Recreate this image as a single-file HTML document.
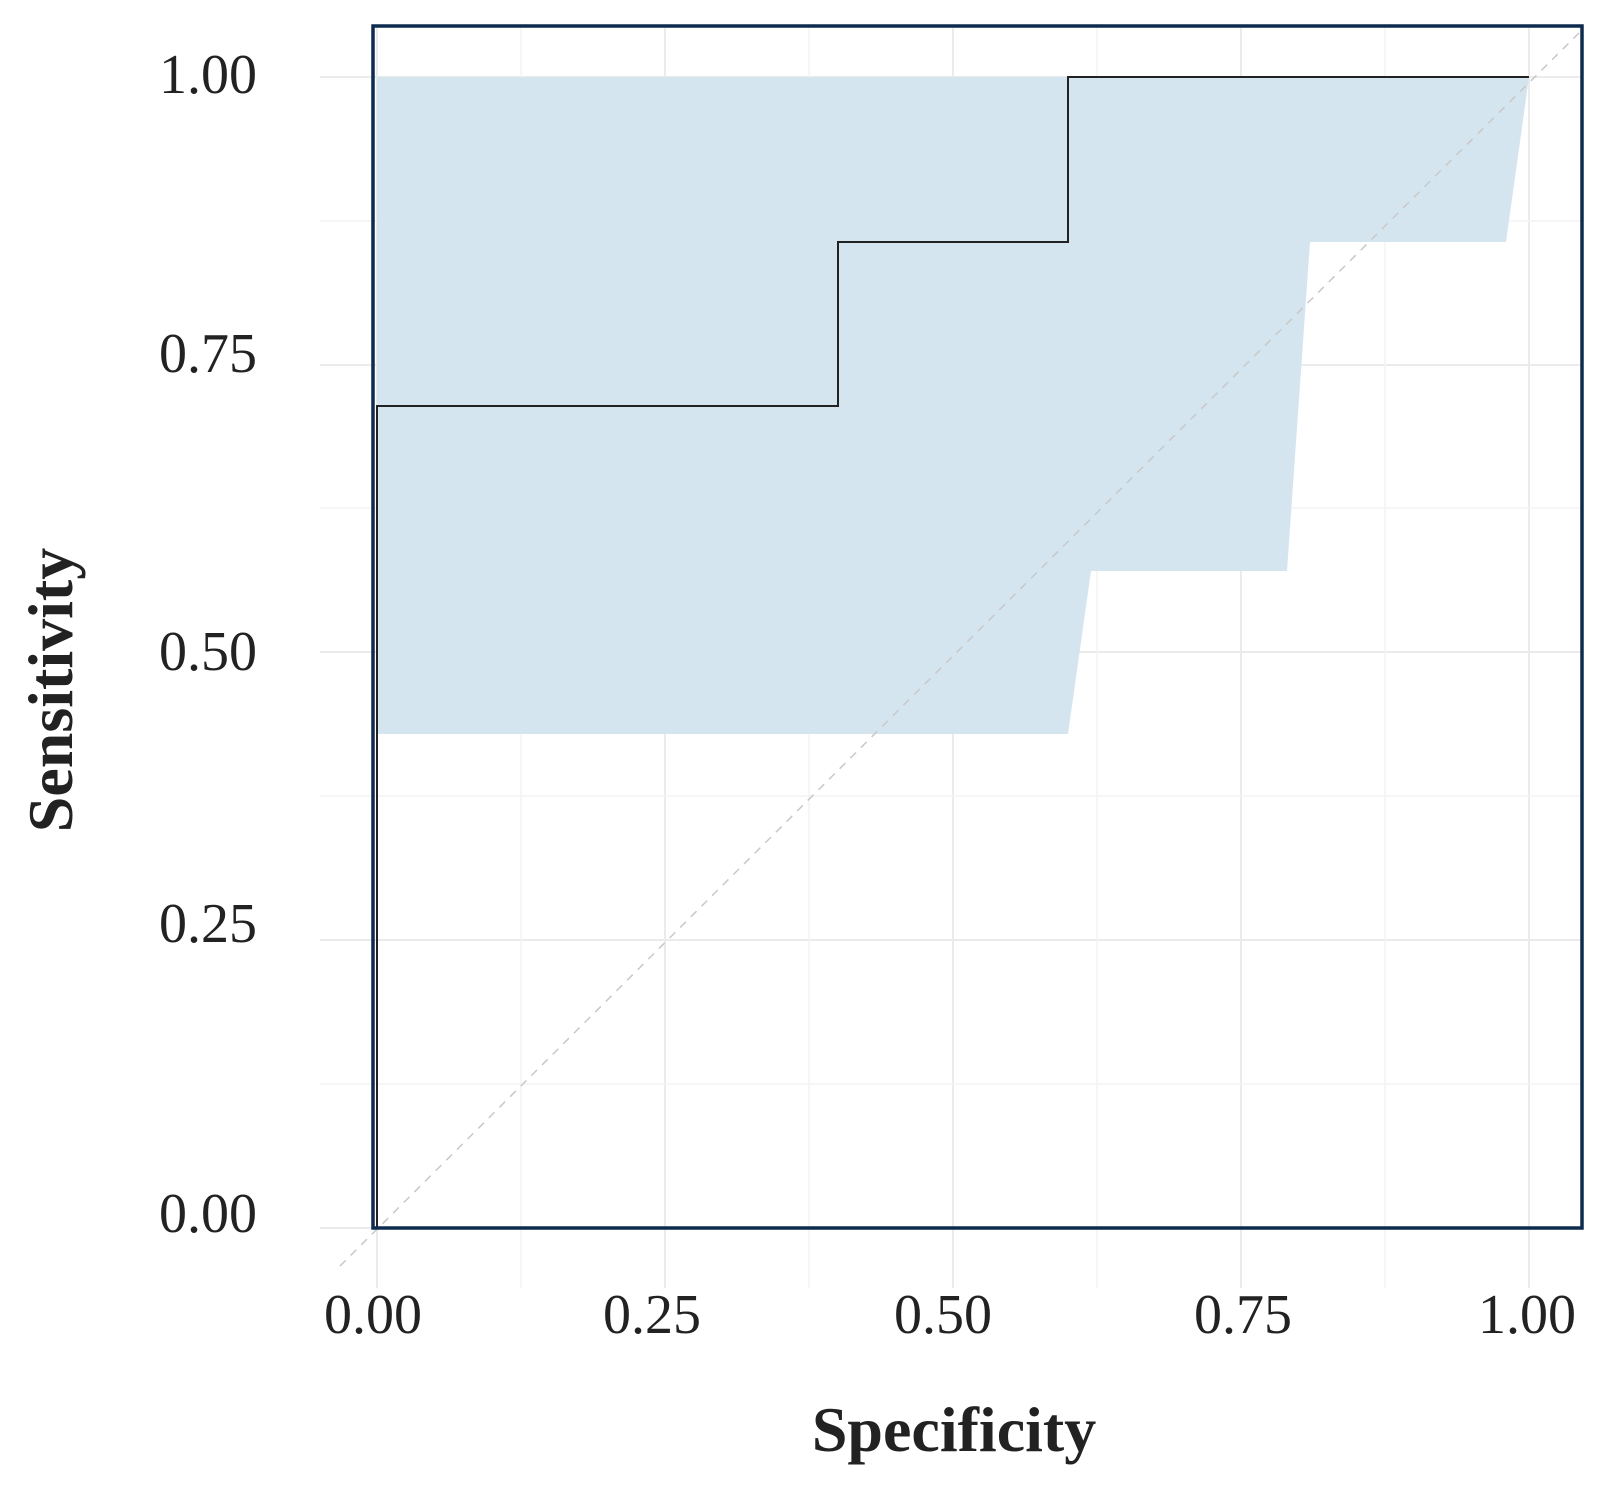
<!DOCTYPE html>
<html><head><style>html,body{margin:0;padding:0;background:#fff}</style></head>
<body>
<svg width="1623" height="1504" viewBox="0 0 1623 1504" xmlns="http://www.w3.org/2000/svg">
<g stroke="#ebebeb" stroke-width="2">
<line x1="320" y1="1228" x2="1582" y2="1228"/>
<line x1="320" y1="940" x2="1582" y2="940"/>
<line x1="320" y1="652" x2="1582" y2="652"/>
<line x1="320" y1="365" x2="1582" y2="365"/>
<line x1="320" y1="77" x2="1582" y2="77"/>
<line x1="377" y1="26" x2="377" y2="1288"/>
<line x1="665" y1="26" x2="665" y2="1288"/>
<line x1="953" y1="26" x2="953" y2="1288"/>
<line x1="1241" y1="26" x2="1241" y2="1288"/>
<line x1="1529" y1="26" x2="1529" y2="1288"/>
</g>
<g stroke="#f4f4f4" stroke-width="1.5">
<line x1="320" y1="1084" x2="1582" y2="1084"/>
<line x1="320" y1="796" x2="1582" y2="796"/>
<line x1="320" y1="508" x2="1582" y2="508"/>
<line x1="320" y1="221" x2="1582" y2="221"/>
<line x1="521" y1="26" x2="521" y2="1288"/>
<line x1="809" y1="26" x2="809" y2="1288"/>
<line x1="1097" y1="26" x2="1097" y2="1288"/>
<line x1="1385" y1="26" x2="1385" y2="1288"/>
</g>
<polygon fill="#d5e5ef" points="377,77 1529,77 1506,242 1310,242 1287,571 1091,571 1068,734 377,734"/>
<line x1="340" y1="1266" x2="1582" y2="30" stroke="#c8c8c8" stroke-width="1.5" stroke-dasharray="8,7"/>
<polyline fill="none" stroke="#222" stroke-width="2" points="377,1228 377,406 838,406 838,242 1068,242 1068,77 1529,77"/>
<rect x="373" y="26" width="1209" height="1202" fill="none" stroke="#0d2a4f" stroke-width="3.5"/>
<g font-family="Liberation Serif, serif" font-size="56" fill="#222" text-anchor="end">
<text x="257" y="93">1.00</text>
<text x="257" y="372">0.75</text>
<text x="257" y="670">0.50</text>
<text x="257" y="942">0.25</text>
<text x="257" y="1232">0.00</text>
</g>
<g font-family="Liberation Serif, serif" font-size="56" fill="#222" text-anchor="middle">
<text x="373" y="1333">0.00</text>
<text x="652" y="1333">0.25</text>
<text x="943" y="1333">0.50</text>
<text x="1243" y="1333">0.75</text>
<text x="1527" y="1333">1.00</text>
</g>
<text x="954" y="1451" font-family="Liberation Serif, serif" font-size="64" font-weight="bold" fill="#222" text-anchor="middle">Specificity</text>
<text transform="translate(72,690) rotate(-90)" font-family="Liberation Serif, serif" font-size="64" font-weight="bold" fill="#222" text-anchor="middle">Sensitivity</text>
</svg>
</body></html>
